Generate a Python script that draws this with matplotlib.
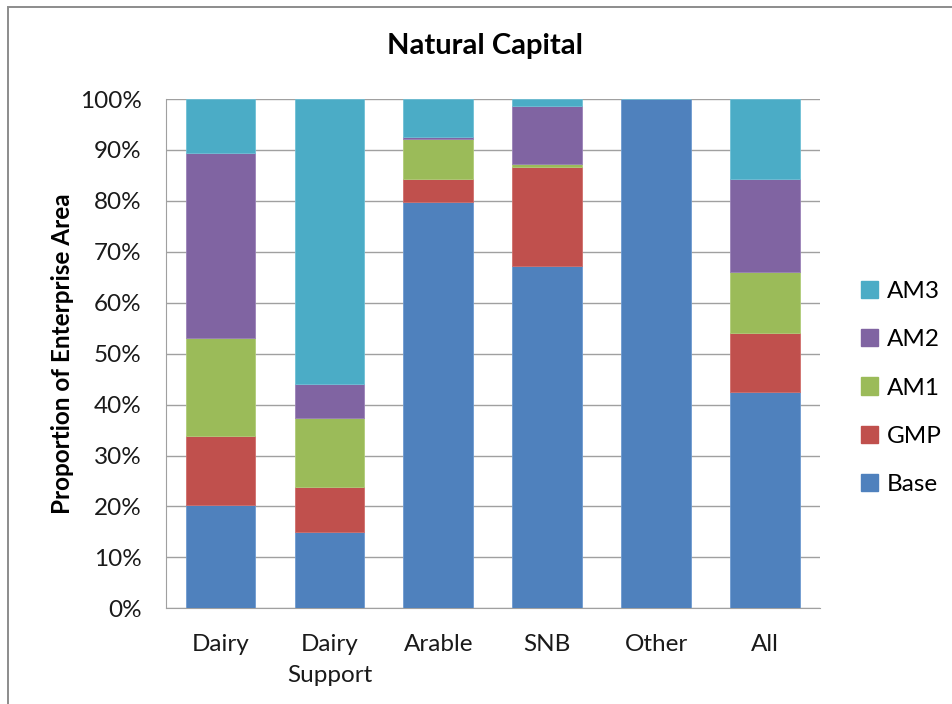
import matplotlib
matplotlib.use("Agg")
import matplotlib.pyplot as plt
from matplotlib.patches import Rectangle, Patch
import numpy as np

plt.rcParams['font.family'] = ['Lato', 'DejaVu Sans']

categories = ["Dairy", "Dairy\nSupport", "Arable", "SNB", "Other", "All"]
series_names = ["Base", "GMP", "AM1", "AM2", "AM3"]
base = [20.2, 15.0, 79.7, 67.2, 100.0, 42.5]
gmp = [13.7, 8.8, 4.5, 19.5, 0.0, 11.5]
am1 = [19.1, 13.6, 7.9, 0.6, 0.0, 12.1]
am2 = [36.3, 6.6, 0.4, 11.3, 0.0, 18.1]
am3 = [10.7, 56.0, 7.5, 1.4, 0.0, 15.8]
colors = ["#4F81BD", "#C0504D", "#9BBB59", "#8064A2", "#4BACC6"]
edge_colors = ["#6E9AD0", "#D06E6B", "#B0CC78", "#9A82B8", "#6FC0D6"]

fig = plt.figure(figsize=(9.52, 7.04), dpi=100)
# chart frame
fig.patches.append(Rectangle((8/952, -0.01), 1.0, 1 - 7/704 + 0.01, transform=fig.transFigure,
                             fill=False, edgecolor="#8c8c8c", linewidth=1.4))

ax = fig.add_axes([166/952, 1 - 608.3/704, (819.5 - 166)/952, (608.3 - 99)/704])
x = np.arange(len(categories))
bottom = np.zeros(len(categories))
data = [base, gmp, am1, am2, am3]
handles = []
for vals, c, ec, name in zip(data, colors, edge_colors, series_names):
    v = np.array(vals)
    ax.bar(x, v, bottom=bottom, width=0.64, color=c, edgecolor=ec, linewidth=0.6, zorder=3)
    bottom += v
    handles.append(Patch(facecolor=c, edgecolor=c, label=name))

fs = 17.5
ax.set_xlim(-0.5, len(categories) - 0.5)
ax.set_ylim(0, 100)
ax.set_yticks(np.arange(0, 101, 10))
ax.set_yticklabels([f"{t}%" for t in range(0, 101, 10)], fontsize=fs, color="#1a1a1a")
ax.set_xticks(x)
ax.set_xticklabels(categories, fontsize=fs, color="#1a1a1a", linespacing=1.6)
ax.tick_params(axis='y', length=0, pad=17.5)
ax.tick_params(axis='x', length=0, pad=18.5)
ax.yaxis.grid(True, color="#a0a0a0", linewidth=1.0, zorder=0)
for s in ["top", "right"]:
    ax.spines[s].set_visible(False)
ax.spines["left"].set_color("#a0a0a0")
ax.spines["bottom"].set_color("#a0a0a0")
ax.spines["left"].set_zorder(4)

ax.set_ylabel("Proportion of Enterprise Area", fontsize=fs, fontweight="bold", labelpad=4.5)
fig.text(485/952, 1 - 46/704, "Natural Capital", ha="center", va="center",
         fontsize=21, fontweight="bold")

leg = fig.legend(handles=handles[::-1], labels=series_names[::-1], loc="center left",
                 bbox_to_anchor=(861/952, 1 - 388/704), frameon=False, fontsize=fs,
                 handlelength=0.7, handleheight=0.7, handletextpad=0.35, labelspacing=1.13,
                 borderpad=0, borderaxespad=0)

fig.savefig("out.png", dpi=100)
